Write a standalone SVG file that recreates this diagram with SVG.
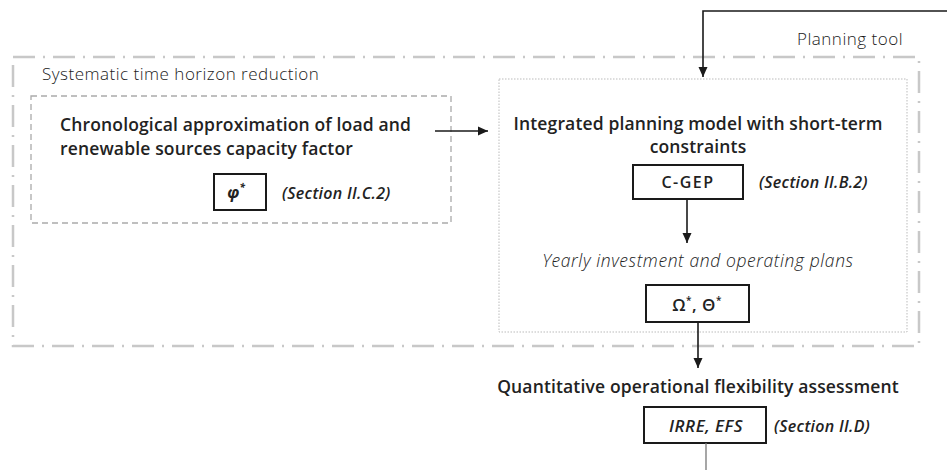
<svg xmlns="http://www.w3.org/2000/svg" width="947" height="470" viewBox="0 0 947 470">
<defs>
<marker id="ah" viewBox="0 0 10 10" refX="10" refY="5" markerWidth="10" markerHeight="10" markerUnits="userSpaceOnUse" orient="auto">
<path d="M0,0.5 L10,5 L0,9.5 z" fill="#1a1a1a"/>
</marker>
<style>
.t{font-family:"Open Sans","Noto Sans","Liberation Sans",sans-serif;fill:#222}
.lt{font-size:17px;font-weight:300;fill:#1a1a1a;letter-spacing:0.5px}
.b{font-size:17.5px;font-weight:600;letter-spacing:0.15px}
.sec{font-size:16px;font-weight:600;font-style:italic;letter-spacing:0.3px}
.box{fill:#fff;stroke:#1a1a1a;stroke-width:2}
.conn{stroke:#1a1a1a;stroke-width:1.6;fill:none}
</style>
</defs>
<rect x="0" y="0" width="947" height="470" fill="#fff"/>
<g id="planning-tool">
<rect x="13" y="57" width="906" height="289" fill="none" stroke="#c8c8c8" stroke-width="2.5" stroke-dasharray="22 8 2 8"/>
<text class="t lt" x="903" y="45" text-anchor="end">Planning tool</text>
</g>
<g id="reduction-label">
<text class="t lt" x="42" y="80">Systematic time horizon reduction</text>
</g>
<g id="chronological">
<rect x="31" y="96" width="420" height="127" fill="none" stroke="#aaa" stroke-width="1.3" stroke-dasharray="6 4"/>
<text class="t b" x="60" y="131">Chronological approximation of load and</text>
<text class="t b" x="60" y="155">renewable sources capacity factor</text>
<rect class="box" x="214" y="174" width="52" height="36"/>
<text class="t" x="236" y="198" text-anchor="middle" font-size="16" font-weight="700" font-style="italic">φ<tspan font-size="10" dy="-7">*</tspan></text>
<text class="t sec" x="282" y="199">(Section II.C.2)</text>
</g>
<g id="integrated">
<rect x="499" y="79" width="408" height="253" fill="none" stroke="#bbb" stroke-width="1" stroke-dasharray="1.5 1.5"/>
<text class="t b" x="698" y="130" text-anchor="middle">Integrated planning model with short-term</text>
<text class="t b" x="698" y="153" text-anchor="middle">constraints</text>
</g>
<g id="cgep">
<rect class="box" x="633" y="165" width="110" height="34"/>
<text class="t" x="688" y="188" text-anchor="middle" font-size="16" font-weight="600" letter-spacing="1.5">C-GEP</text>
<text class="t sec" x="759" y="188">(Section II.B.2)</text>
</g>
<g id="plans">
<text class="t" x="698" y="267" text-anchor="middle" font-size="17.5" font-weight="300" font-style="italic" fill="#1a1a1a" letter-spacing="0.6">Yearly investment and operating plans</text>
<rect class="box" x="646" y="285" width="103" height="37"/>
<text class="t" x="697" y="311" text-anchor="middle" font-size="17" font-weight="600" letter-spacing="0.5">Ω<tspan font-size="10" dy="-7">*</tspan><tspan dy="7">, Θ</tspan><tspan font-size="10" dy="-7">*</tspan></text>
</g>
<g id="assessment">
<text class="t b" x="698" y="393" text-anchor="middle">Quantitative operational flexibility assessment</text>
<rect class="box" x="644" y="407" width="122" height="36"/>
<text class="t" x="706" y="432" text-anchor="middle" font-size="17" font-weight="600" font-style="italic" letter-spacing="0.5">IRRE, EFS</text>
<text class="t sec" x="774" y="432">(Section II.D)</text>
</g>
<g id="connectors">
<line class="conn" x1="435" y1="131" x2="488" y2="131" marker-end="url(#ah)"/>
<polyline class="conn" points="947,11 703,11 703,77" stroke="#555" marker-end="url(#ah)"/>
<line class="conn" x1="687" y1="199" x2="687" y2="243" marker-end="url(#ah)"/>
<line class="conn" x1="698" y1="322" x2="698" y2="368" marker-end="url(#ah)"/>
<line x1="706" y1="443" x2="706" y2="470" stroke="#777" stroke-width="1.3"/>
</g>
</svg>
